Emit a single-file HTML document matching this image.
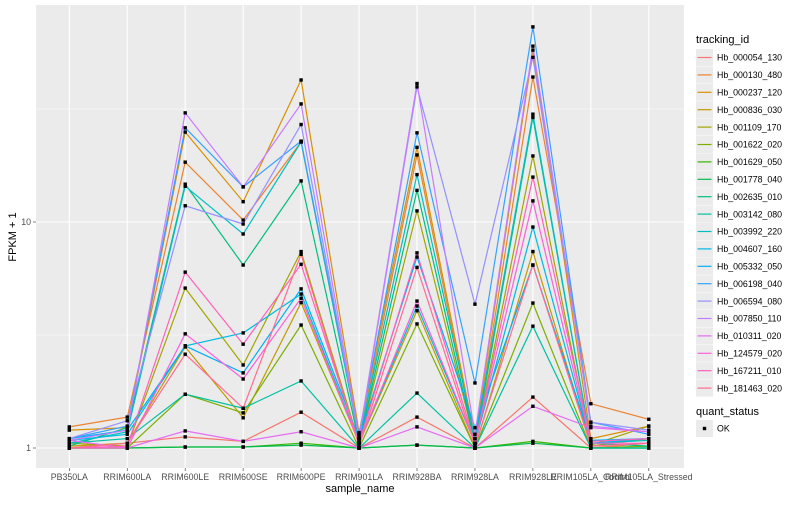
<!DOCTYPE html>
<html><head><meta charset="utf-8"><style>
body{margin:0;background:#fff}
svg text{font-family:"Liberation Sans",Arial,sans-serif}
</style></head><body>
<svg id="chart" width="800" height="500" xmlns="http://www.w3.org/2000/svg">
<rect x="0" y="0" width="800" height="500" fill="#fff"/>
<rect x="36" y="5" width="648" height="463" fill="#ebebeb"/>
<g id="grid"></g>
<g id="series"></g>
<g id="points"></g>
<g id="axes"></g>
<g id="legend"></g>
</svg>
<script>
const categories=["PB350LA","RRIM600LA","RRIM600LE","RRIM600SE","RRIM600PE","RRIM901LA","RRIM928BA","RRIM928LA","RRIM928LE","RRIM105LA_Control","RRIM105LA_Stressed"];
const seriesNames=["Hb_000054_130","Hb_000130_480","Hb_000237_120","Hb_000836_030","Hb_001109_170","Hb_001622_020","Hb_001629_050","Hb_001778_040","Hb_002635_010","Hb_003142_080","Hb_003992_220","Hb_004607_160","Hb_005332_050","Hb_006198_040","Hb_006594_080","Hb_007850_110","Hb_010311_020","Hb_124579_020","Hb_167211_010","Hb_181463_020"];
const s01=[1.0,1.05,1.12,1.07,1.44,1.0,1.37,1.0,1.68,1.0,1.05];
const s02=[1.24,1.37,18.4,10.2,22.6,1.1,19.8,1.05,43.8,1.57,1.34];
const s03=[1.2,1.23,25.0,12.3,42.5,1.17,21.4,1.1,57.6,1.1,1.25];
const s04=[1.02,1.05,2.8,1.36,4.4,1.05,4.05,1.0,7.4,1.02,1.1];
const s05=[1.05,1.02,5.1,2.33,7.4,1.05,11.2,1.05,19.6,1.03,1.25];
const s06=[1.0,1.0,1.73,1.43,3.5,1.0,3.54,1.0,4.38,1.0,1.02];
const s07=[1.0,1.0,1.01,1.01,1.05,1.0,1.03,1.0,1.07,1.0,1.0];
const s08=[1.0,1.0,1.01,1.01,1.03,1.0,1.03,1.0,1.05,1.0,1.0];
const s09=[1.02,1.23,14.7,6.45,15.2,1.06,13.8,1.05,29,1.05,1.02];
const s10=[1.05,1.1,1.73,1.5,1.98,1.0,1.75,1.0,3.46,1.0,1.0];
const s11=[1.05,1.18,14.4,8.85,22.6,1.1,16.2,1.1,30,1.05,1.08];
const s12=[1.08,1.15,2.83,3.23,4.8,1.06,4.25,1.05,9.5,1.05,1.1];
const s13=[1.1,1.2,2.83,2.15,5.06,1.1,7.0,1.23,6.45,1.08,1.1];
const s14=[1.1,1.25,26.1,14.3,22.8,1.15,24.8,1.94,73,1.3,1.15];
const s15=[1.1,1.32,11.8,9.8,27,1.1,39.6,4.33,53.5,1.3,1.2];
const s16=[1.08,1.2,30.4,14.3,33.3,1.12,41,1.15,60,1.25,1.18];
const s17=[1.08,1.0,1.19,1.07,1.18,1.0,1.24,1.0,1.53,1.23,1.18];
const s18=[1.0,1.0,3.2,2.02,4.6,1.05,4.47,1.05,12.4,1.05,1.05];
const s19=[1.0,1.02,6.0,2.88,6.5,1.05,7.3,1.05,15.8,1.07,1.1];
const s20=[1.0,1.05,2.6,1.5,7.2,1.02,6.3,1.02,6.45,1.02,1.05];
const seriesValues=[s01,s02,s03,s04,s05,s06,s07,s08,s09,s10,s11,s12,s13,s14,s15,s16,s17,s18,s19,s20];
const colors=["#F8766D","#EA8331","#D89000","#C09B00","#A3A500","#7CAE00","#39B600","#00BB4E","#00BF7D","#00C1A3","#00BFC4","#00BAE0","#00B0F6","#35A2FF","#9590FF","#C77CFF","#E76BF3","#FA62DB","#FF62BC","#FF6C91"];
const yTicks=[1,10];
const yMinor=[Math.sqrt(10),Math.sqrt(1000)];

const NS="http://www.w3.org/2000/svg";
function mk(tag,attrs,parent){const e=document.createElementNS(NS,tag);for(const k in attrs)e.setAttribute(k,attrs[k]);parent.appendChild(e);return e;}
function xScale(i){return 69.3+i*57.95;}
function yScale(v){return 448-226*Math.log10(v);}

const grid=document.getElementById('grid');
yMinor.forEach(v=>{const l=mk('line',{x1:36,x2:684,y1:yScale(v),y2:yScale(v),stroke:'#fff','stroke-width':0.6},grid);

});
yTicks.forEach(v=>{const l=mk('line',{x1:36,x2:684,y1:yScale(v),y2:yScale(v),stroke:'#fff','stroke-width':1.1},grid);

});
categories.forEach((c,i)=>{const l=mk('line',{x1:xScale(i),x2:xScale(i),y1:5,y2:468,stroke:'#fff','stroke-width':1.1},grid);

});

const sg=document.getElementById('series'),pg=document.getElementById('points');
seriesValues.forEach((vals,si)=>{
  const d=vals.map((v,i)=>(i?'L':'M')+xScale(i).toFixed(1)+','+yScale(v).toFixed(1)).join(' ');
  const p=mk('path',{d:d,fill:'none',stroke:colors[si],'stroke-width':1.2},sg);
  
  
  vals.forEach((v,i)=>{const r=mk('rect',{x:xScale(i)-1.7,y:yScale(v)-1.7,width:3.4,height:3.4,fill:'#000'},pg);
  
  });
});

const ax=document.getElementById('axes');
yTicks.forEach(v=>{const t=mk('text',{x:31,y:yScale(v)+3,'text-anchor':'end','font-size':8.8,fill:'#4d4d4d'},ax);t.textContent=v;


const l=mk('line',{x1:33,x2:36,y1:yScale(v),y2:yScale(v),stroke:'#333','stroke-width':0.6},ax);

});
categories.forEach((c,i)=>{const t=mk('text',{x:xScale(i),y:480,'text-anchor':'middle','font-size':8.8,fill:'#4d4d4d'},ax);t.textContent=c;


const l=mk('line',{x1:xScale(i),x2:xScale(i),y1:468,y2:471,stroke:'#333','stroke-width':0.6},ax);

});
const xt=mk('text',{x:360,y:492,'text-anchor':'middle','font-size':11,fill:'#000'},ax);xt.textContent='sample_name';


const yt=mk('text',{x:16,y:237,'text-anchor':'middle','font-size':11,fill:'#000',transform:'rotate(-90 16 237)'},ax);yt.textContent='FPKM + 1';



const lg=document.getElementById('legend');
const lt=mk('text',{x:696,y:43,'font-size':11,fill:'#000'},lg);lt.textContent='tracking_id';


seriesNames.forEach((n,i)=>{const y=57.5+i*17.4;
 const g=mk('g',{},lg);
 
 
 mk('rect',{x:696,y:y-8.5,width:17,height:17,fill:'#ebebeb'},g);
 mk('line',{x1:697.5,x2:711.5,y1:y,y2:y,stroke:colors[i],'stroke-width':1.2},g);
 const t=mk('text',{x:717,y:y+3.2,'font-size':8.8,fill:'#000'},g);t.textContent=n;});
const qt=mk('text',{x:696,y:415,'font-size':11,fill:'#000'},lg);qt.textContent='quant_status';


const og=mk('g',{},lg);


mk('rect',{x:696,y:420,width:17,height:17,fill:'#ebebeb'},og);
mk('rect',{x:702.8,y:426.8,width:3.4,height:3.4,fill:'#000'},og);
const ot=mk('text',{x:717,y:431.7,'font-size':8.8,fill:'#000'},og);ot.textContent='OK';
</script>
</body></html>
